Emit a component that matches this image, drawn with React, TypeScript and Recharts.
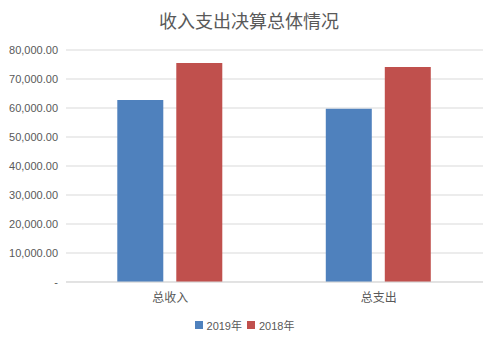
/**
 * BudgetChart — grouped bar chart comparing total income and total
 * expenditure for 2019 vs 2018.
 */
import { BarChart, Bar, XAxis, YAxis, CartesianGrid, Legend } from 'recharts'

const CATEGORIES = ['总收入', '总支出']
const VALUES_2019 = [62800, 59700]
const VALUES_2018 = [75500, 74100]
const Y_TICKS = [0, 10000, 20000, 30000, 40000, 50000, 60000, 70000, 80000]

const SERIES = [
  { key: 'y2019', name: '2019年', color: '#4f81bd' },
  { key: 'y2018', name: '2018年', color: '#c0504d' },
]

const data = CATEGORIES.map((name, i) => ({
  name,
  y2019: VALUES_2019[i],
  y2018: VALUES_2018[i],
}))

const TEXT = '#595959'
const FONT = '"Liberation Sans", "Noto Sans CJK SC", sans-serif'

const formatTick = (v: number) =>
  v === 0 ? '-' : v.toLocaleString('en-US', { minimumFractionDigits: 2, maximumFractionDigits: 2 })

function LegendContent() {
  return (
    <div style={{ height: 31, paddingTop: 6, boxSizing: 'border-box', display: 'flex', justifyContent: 'center', fontFamily: FONT, fontSize: 11, color: TEXT, paddingLeft: 6 }}>
      {SERIES.map((s, i) => (
        <div key={s.key} style={{ display: 'flex', alignItems: 'center', height: 14, marginLeft: i ? 5 : 0 }}>
          <span style={{ width: 8, height: 8, background: s.color, display: 'inline-block', marginRight: 4 }} />
          <span>{s.name}</span>
        </div>
      ))}
    </div>
  )
}

export default function App() {
  return (
    <div style={{ position: 'absolute', left: 0, top: 0, width: 498, height: 343, background: '#fff' }}>
      <div style={{ position: 'absolute', top: 8, left: 0, width: 498, textAlign: 'center', lineHeight: '24px', fontSize: 18, color: TEXT, fontFamily: '"Noto Sans CJK SC", sans-serif' }}>
        收入支出决算总体情况
      </div>
      <BarChart
        width={498}
        height={343}
        data={data}
        margin={{ top: 50, right: 15, left: 0, bottom: 0 }}
        barCategoryGap="24.6%"
        barGap={13}
      >
        <CartesianGrid vertical={false} stroke="#d9d9d9" />
        <XAxis
          dataKey="name"
          height={30}
          tickLine={false}
          axisLine={{ stroke: '#d9d9d9' }}
          tickMargin={5}
          tick={{ fill: TEXT, fontSize: 12, fontFamily: '"Noto Sans CJK SC", sans-serif' }}
        />
        <YAxis
          width={66}
          domain={[0, 80000]}
          ticks={Y_TICKS}
          interval={0}
          tickFormatter={formatTick}
          axisLine={false}
          tickLine={false}
          tickMargin={2}
          tick={{ fill: TEXT, fontSize: 11, fontFamily: FONT }}
        />
        <Legend verticalAlign="bottom" height={31} content={<LegendContent />} />
        {SERIES.map(s => (
          <Bar key={s.key} dataKey={s.key} name={s.name} fill={s.color} isAnimationActive={false} />
        ))}
      </BarChart>
    </div>
  )
}
